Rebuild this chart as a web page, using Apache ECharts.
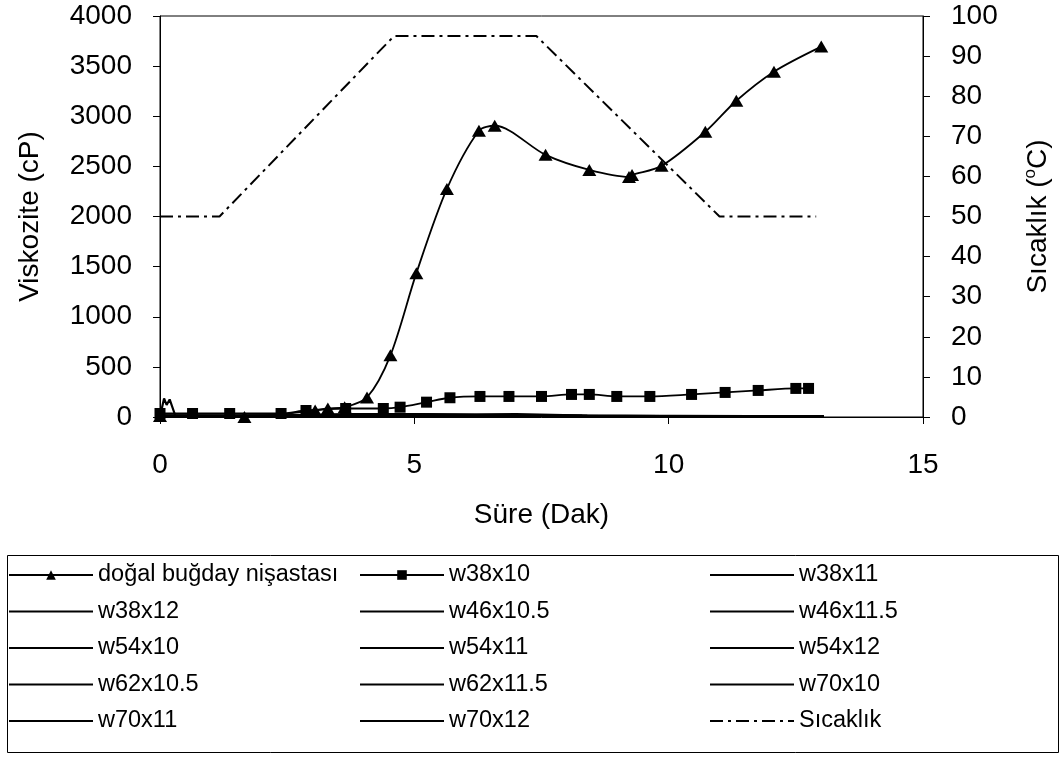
<!DOCTYPE html>
<html>
<head>
<meta charset="utf-8">
<script src="https://cdn.jsdelivr.net/npm/echarts@6/dist/echarts.min.js"></script>
<style>
html,body{margin:0;padding:0;background:#fff;}
#c{width:1062px;height:758px;}
</style>
</head>
<body>
<div id="c"></div>
<script>
// ---- data (time in minutes, viscosity in cP, temperature in °C) ----
const xTicks = [0, 5, 10, 15];
const dogal = [[0,10],[1.66,0],[3.05,65],[3.3,85],[3.63,98],[4.07,195],[4.53,615],[5.04,1435],[5.64,2275],[6.27,2855],[6.58,2905],[7.58,2615],[8.44,2465],[9.22,2395],[9.28,2415],[9.86,2505],[10.72,2845],[11.33,3155],[12.07,3445],[13.0,3695]];
const w38x10 = [[0,35],[0.64,35],[1.37,35],[2.38,35],[2.87,65],[3.65,85],[4.39,85],[4.72,98],[5.24,148],[5.7,192],[6.29,205],[6.86,205],[7.5,205],[8.09,225],[8.44,225],[8.98,205],[9.63,205],[10.45,225],[11.11,245],[11.76,265],[12.5,285],[12.75,285]];
const w38x11 = [[0,5],[0.08,185],[0.13,120],[0.19,175],[0.3,15],[1.5,10],[3.0,15],[4.5,25],[6.0,15],[7.5,10],[9.0,8],[10.5,8],[12.0,8],[13.05,8]];
const w38x12 = [[0,10],[1.2,12],[2.6,15],[3.9,30],[5.0,20],[6.5,12],[8.0,10],[9.5,8],[11.0,8],[13.05,7]];
const w46x105 = [[0,12],[1.4,10],[2.8,18],[4.2,28],[5.5,18],[7.0,12],[8.5,10],[10.0,9],[11.5,8],[13.05,8]];
const w46x115 = [[0,8],[1.0,10],[2.5,14],[3.7,25],[4.9,30],[6.2,18],[7.7,12],[9.2,10],[10.8,9],[13.05,9]];
const w54x10 = [[0,15],[1.3,12],[2.7,16],[4.0,22],[5.3,26],[6.8,15],[8.3,11],[9.8,10],[11.3,9],[13.05,10]];
const w54x11 = [[0,10],[1.6,9],[3.1,12],[4.4,20],[5.8,22],[7.2,14],[8.7,10],[10.2,8],[11.7,7],[13.05,7]];
const w54x12 = [[0,6],[1.1,8],[2.4,10],[3.6,18],[4.8,24],[6.1,16],[7.6,11],[9.1,9],[10.6,8],[13.05,8]];
const w62x105 = [[0,12],[1.5,11],[2.9,14],[4.3,20],[5.6,25],[7.0,30],[8.4,14],[9.9,10],[11.4,9],[13.05,9]];
const w62x115 = [[0,9],[1.2,10],[2.6,12],[4.1,16],[5.4,20],[6.9,18],[8.3,12],[9.8,10],[11.2,9],[13.05,8]];
const w70x10 = [[0,14],[1.4,13],[2.8,15],[4.2,18],[5.7,16],[7.1,14],[8.6,12],[10.1,11],[11.6,10],[13.05,10]];
const w70x11 = [[0,11],[1.3,10],[2.7,12],[4.0,15],[5.5,14],[6.9,12],[8.4,11],[9.9,10],[11.4,9],[13.05,9]];
const w70x12 = [[0,7],[1.5,8],[3.0,10],[4.5,12],[6.0,12],[7.4,10],[8.9,9],[10.4,8],[11.9,8],[13.05,8]];
const sicaklik = [[0,50],[1.17,50],[4.6,95],[7.4,95],[11.0,50],[12.9,50]];

const names = ['doğal buğday nişastası','w38x10','w38x11','w38x12','w46x10.5','w46x11.5','w54x10','w54x11','w54x12','w62x10.5','w62x11.5','w70x10','w70x11','w70x12','Sıcaklık'];
const plainData = {
  'w38x11': w38x11, 'w38x12': w38x12, 'w46x10.5': w46x105, 'w46x11.5': w46x115,
  'w54x10': w54x10, 'w54x11': w54x11, 'w54x12': w54x12, 'w62x10.5': w62x105,
  'w62x11.5': w62x115, 'w70x10': w70x10, 'w70x11': w70x11, 'w70x12': w70x12
};

const FONT = 'Liberation Sans';
const HIDDEN = 'rgba(0,0,0,0)';
const series = [];
series.push({
  name: names[0], type: 'line', data: dogal, smooth: 0.3,
  symbol: 'triangle', symbolSize: [14, 12], showAllSymbol: true,
  lineStyle: {color: '#000', width: 1.8}, itemStyle: {color: '#000'}, z: 5
});
series.push({
  name: names[1], type: 'line', data: w38x10, smooth: 0.3,
  symbol: 'rect', symbolSize: 11, showAllSymbol: true,
  lineStyle: {color: '#000', width: 1.8}, itemStyle: {color: '#000'}, z: 4
});
Object.keys(plainData).forEach(function(n){
  series.push({
    name: n, type: 'line', data: plainData[n], smooth: false, symbol: 'circle', showSymbol: false,
    lineStyle: {color: '#000', width: 2.2}, itemStyle: {color: HIDDEN}
  });
});
series.push({
  name: 'Sıcaklık', type: 'line', yAxisIndex: 1, data: sicaklik, smooth: false, symbol: 'circle', showSymbol: false,
  lineStyle: {color: '#000', width: 2, type: [13, 5, 3, 5]}, itemStyle: {color: HIDDEN}
});

const legendBase = {
  orient: 'vertical', top: 563, itemWidth: 84, itemHeight: 12, itemGap: 12.5,
  selectedMode: false, padding: 0,
  textStyle: {fontFamily: FONT, fontSize: 23.5, lineHeight: 24, color: '#000'}
};
const legends = [
  Object.assign({}, legendBase, {left: 8, data: ['doğal buğday nişastası','w38x12','w54x10','w62x10.5','w70x11']}),
  Object.assign({}, legendBase, {left: 359, data: ['w38x10','w46x10.5','w54x11','w62x11.5','w70x12']}),
  Object.assign({}, legendBase, {left: 709, data: ['w38x11','w46x11.5','w54x12','w70x10','Sıcaklık']})
];

const plainNum = function(v){ return String(v); };
const axisCommon = {
  axisLine: {show: true, lineStyle: {color: '#000', width: 1}},
  axisTick: {show: true, inside: false, length: 7, lineStyle: {color: '#000'}},
  splitLine: {show: false},
  axisLabel: {fontFamily: FONT, fontSize: 28, color: '#000', margin: 28, formatter: plainNum},
  nameTextStyle: {fontFamily: FONT, fontSize: 28, color: '#000'}
};

const chart = echarts.init(document.getElementById('c'), null, {renderer: 'canvas'});
chart.setOption({
  animation: false,
  backgroundColor: '#fff',
  grid: {left: 160, right: 134, top: 16, bottom: 341, show: true, borderColor: '#000', borderWidth: 1, backgroundColor: 'transparent'},
  xAxis: Object.assign({}, axisCommon, {
    type: 'value', min: xTicks[0], max: xTicks[xTicks.length - 1], interval: 5,
    name: 'Süre (Dak)', nameLocation: 'middle', nameGap: 84,
    axisLabel: Object.assign({}, axisCommon.axisLabel, {margin: 34})
  }),
  yAxis: [
    Object.assign({}, axisCommon, {
      type: 'value', min: 0, max: 4000, interval: 500, position: 'left',
      name: 'Viskozite (cP)', nameLocation: 'middle', nameGap: 116, nameRotate: 90
    }),
    Object.assign({}, axisCommon, {
      type: 'value', min: 0, max: 100, interval: 10, position: 'right',
      name: 'Sıcaklık ({sup|o}C)', nameLocation: 'middle', nameGap: 99, nameRotate: 90,
      nameTextStyle: {fontFamily: FONT, fontSize: 28, color: '#000', lineHeight: 32,
        rich: {sup: {fontFamily: FONT, fontSize: 17, verticalAlign: 'top', lineHeight: 32, color: '#000'}}}
    })
  ],
  legend: legends,
  graphic: [{
    type: 'rect', left: 5, top: 553, shape: {width: 1051, height: 197},
    style: {fill: 'none', stroke: '#000', lineWidth: 1}, silent: true
  }],
  series: series
});
</script>
</body>
</html>
